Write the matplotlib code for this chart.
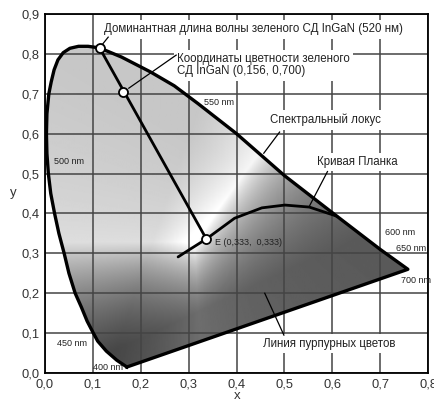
import numpy as np
import matplotlib
matplotlib.use("Agg")
import matplotlib.pyplot as plt
from matplotlib.patches import Polygon

plt.rcParams['font.family'] = ['Liberation Sans', 'DejaVu Sans']

# spectral locus (400 nm tip -> left side -> top -> 700 nm tip)
locus_x = [0.171, 0.150, 0.128, 0.110, 0.101, 0.088, 0.076, 0.063, 0.050, 0.040,
           0.029, 0.020, 0.012, 0.007, 0.004, 0.003, 0.004, 0.008, 0.013, 0.019,
           0.027, 0.038, 0.052, 0.070, 0.090, 0.114, 0.160, 0.220, 0.270, 0.320,
           0.400, 0.500, 0.600, 0.700, 0.758]
locus_y = [0.015, 0.032, 0.055, 0.080, 0.100, 0.130, 0.165, 0.200, 0.250, 0.300,
           0.350, 0.400, 0.450, 0.500, 0.550, 0.600, 0.650, 0.700, 0.730, 0.760,
           0.785, 0.803, 0.814, 0.819, 0.819, 0.815, 0.792, 0.755, 0.720, 0.675,
           0.600, 0.495, 0.402, 0.310, 0.260]

# Planck curve
planck_x = [0.278, 0.300, 0.337, 0.396, 0.453, 0.501, 0.552, 0.610]
planck_y = [0.291, 0.308, 0.336, 0.388, 0.414, 0.421, 0.416, 0.393]

# dominant wavelength point, green LED point, equal-energy point E
dom_pt = (0.114, 0.815)
led_pt = (0.163, 0.704)
e_pt = (0.337, 0.336)

xticks = [0.0, 0.1, 0.2, 0.3, 0.4, 0.5, 0.6, 0.7, 0.8]
yticks = [0.0, 0.1, 0.2, 0.3, 0.4, 0.5, 0.6, 0.7, 0.8, 0.9]
xticklabels = ["0,0", "0,1", "0,2", "0,3", "0,4", "0,5", "0,6", "0,7", "0,8"]
yticklabels = ["0,0", "0,1", "0,2", "0,3", "0,4", "0,5", "0,6", "0,7", "0,8", "0,9"]

fig = plt.figure(figsize=(4.34, 4.03), dpi=100)
ax = fig.add_axes([45/434, 30/403, 383/434, 359/403])
ax.set_xlim(0, 0.8)
ax.set_ylim(0, 0.9)

# grey rendering of the chromaticity diagram
gx, gy = np.meshgrid(np.linspace(0.001, 0.8, 320), np.linspace(0.001, 0.9, 360))
X = gx/gy
Z = (1 - gx - gy)/gy
M = np.array([[3.2406, -1.5372, -0.4986],
              [-0.9689, 1.8758, 0.0415],
              [0.0557, -0.2040, 1.0570]])
rgb = np.stack([M[i, 0]*X + M[i, 1] + M[i, 2]*Z for i in range(3)], axis=-1)
rgb = np.clip(rgb, 0, None)
rgb = rgb/np.maximum(rgb.max(axis=-1, keepdims=True), 1e-9)
lum = 0.2*rgb[..., 0] + 0.7*rgb[..., 1] + 0.1*rgb[..., 2]
grey = np.clip(0.22 + 0.84*lum**1.15, 0, 1)

shape = Polygon(np.column_stack([locus_x, locus_y]), closed=True,
                facecolor='none', edgecolor='none')
ax.add_patch(shape)
im = ax.imshow(grey, extent=[0, 0.8, 0, 0.9], origin='lower', cmap='gray',
               vmin=0, vmax=1, aspect='auto', interpolation='bilinear', zorder=0)
im.set_clip_path(shape)

ax.grid(True, color='#444444', linewidth=1.1)
ax.set_xticks(xticks)
ax.set_yticks(yticks)
ax.set_xticklabels(xticklabels)
ax.set_yticklabels(yticklabels)
ax.tick_params(length=0, labelsize=9.3, labelcolor='#333333', pad=4)
for s in ax.spines.values():
    s.set_linewidth(1.3)

# locus + purple line
ax.plot(locus_x + [locus_x[0]], locus_y + [locus_y[0]], color='black',
        linewidth=2.4, solid_joinstyle='round', zorder=4)
ax.plot(planck_x, planck_y, color='black', linewidth=2.0, zorder=4,
        solid_capstyle='round')
ax.plot([dom_pt[0], e_pt[0]], [dom_pt[1], e_pt[1]], color='black', linewidth=2.0, zorder=4)
ax.plot([dom_pt[0], led_pt[0], e_pt[0]], [dom_pt[1], led_pt[1], e_pt[1]], 'o',
        markersize=6.5, markerfacecolor='white', markeredgecolor='black',
        markeredgewidth=1.3, zorder=5)

# leader lines
leaders = [((0.114, 0.815), (0.132, 0.842)),
           ((0.175, 0.714), (0.274, 0.797)),
           ((0.457, 0.551), (0.490, 0.604)),
           ((0.553, 0.420), (0.590, 0.505)),
           ((0.459, 0.200), (0.499, 0.095))]
for (x0, y0), (x1, y1) in leaders:
    ax.plot([x0, x1], [y0, y1], color='black', linewidth=0.9, zorder=4)

box = dict(facecolor='white', edgecolor='none', pad=2.5)
big = 8.3
ax.text(0.124, 0.862, "Доминантная длина волны зеленого СД InGaN (520 нм)",
        fontsize=big, color='#222222', va='center', bbox=box, zorder=3)
ax.text(0.276, 0.772, "Координаты цветности зеленого\nСД InGaN (0,156, 0,700)",
        fontsize=big, color='#222222', va='center', linespacing=1.0, bbox=box, zorder=3)
ax.text(0.470, 0.634, "Спектральный локус", fontsize=big, color='#222222',
        va='center', bbox=box, zorder=3)
ax.text(0.568, 0.529, "Кривая Планка", fontsize=big, color='#222222',
        va='center', bbox=box, zorder=3)
ax.text(0.455, 0.073, "Линия пурпурных цветов", fontsize=big, color='#222222',
        va='center', bbox=box, zorder=3)

small = 6.5
ax.text(0.333, 0.677, "550 nm", fontsize=small, color='#222222', va='center', zorder=3)
ax.text(0.019, 0.529, "500 nm", fontsize=small, color='#222222', va='center', zorder=3)
ax.text(0.356, 0.328, "E (0,333,  0,333)", fontsize=small, color='#222222', va='center', zorder=6)
ax.text(0.711, 0.353, "600 nm", fontsize=small, color='#222222', va='center', zorder=3)
ax.text(0.733, 0.313, "650 nm", fontsize=small, color='#222222', va='center', zorder=3)
ax.text(0.743, 0.233, "700 nm", fontsize=small, color='#222222', va='center', zorder=3)
ax.text(0.025, 0.073, "450 nm", fontsize=small, color='#222222', va='center', zorder=3)
ax.text(0.100, 0.013, "400 nm", fontsize=small, color='#222222', va='center', zorder=3)

fig.text(13/434, 1 - 193/403, "y", fontsize=9.5, color='#333333', ha='center', va='center')
fig.text(237/434, 1 - 396/403, "x", fontsize=9.5, color='#333333', ha='center', va='center')

fig.savefig("out.png", dpi=100)
